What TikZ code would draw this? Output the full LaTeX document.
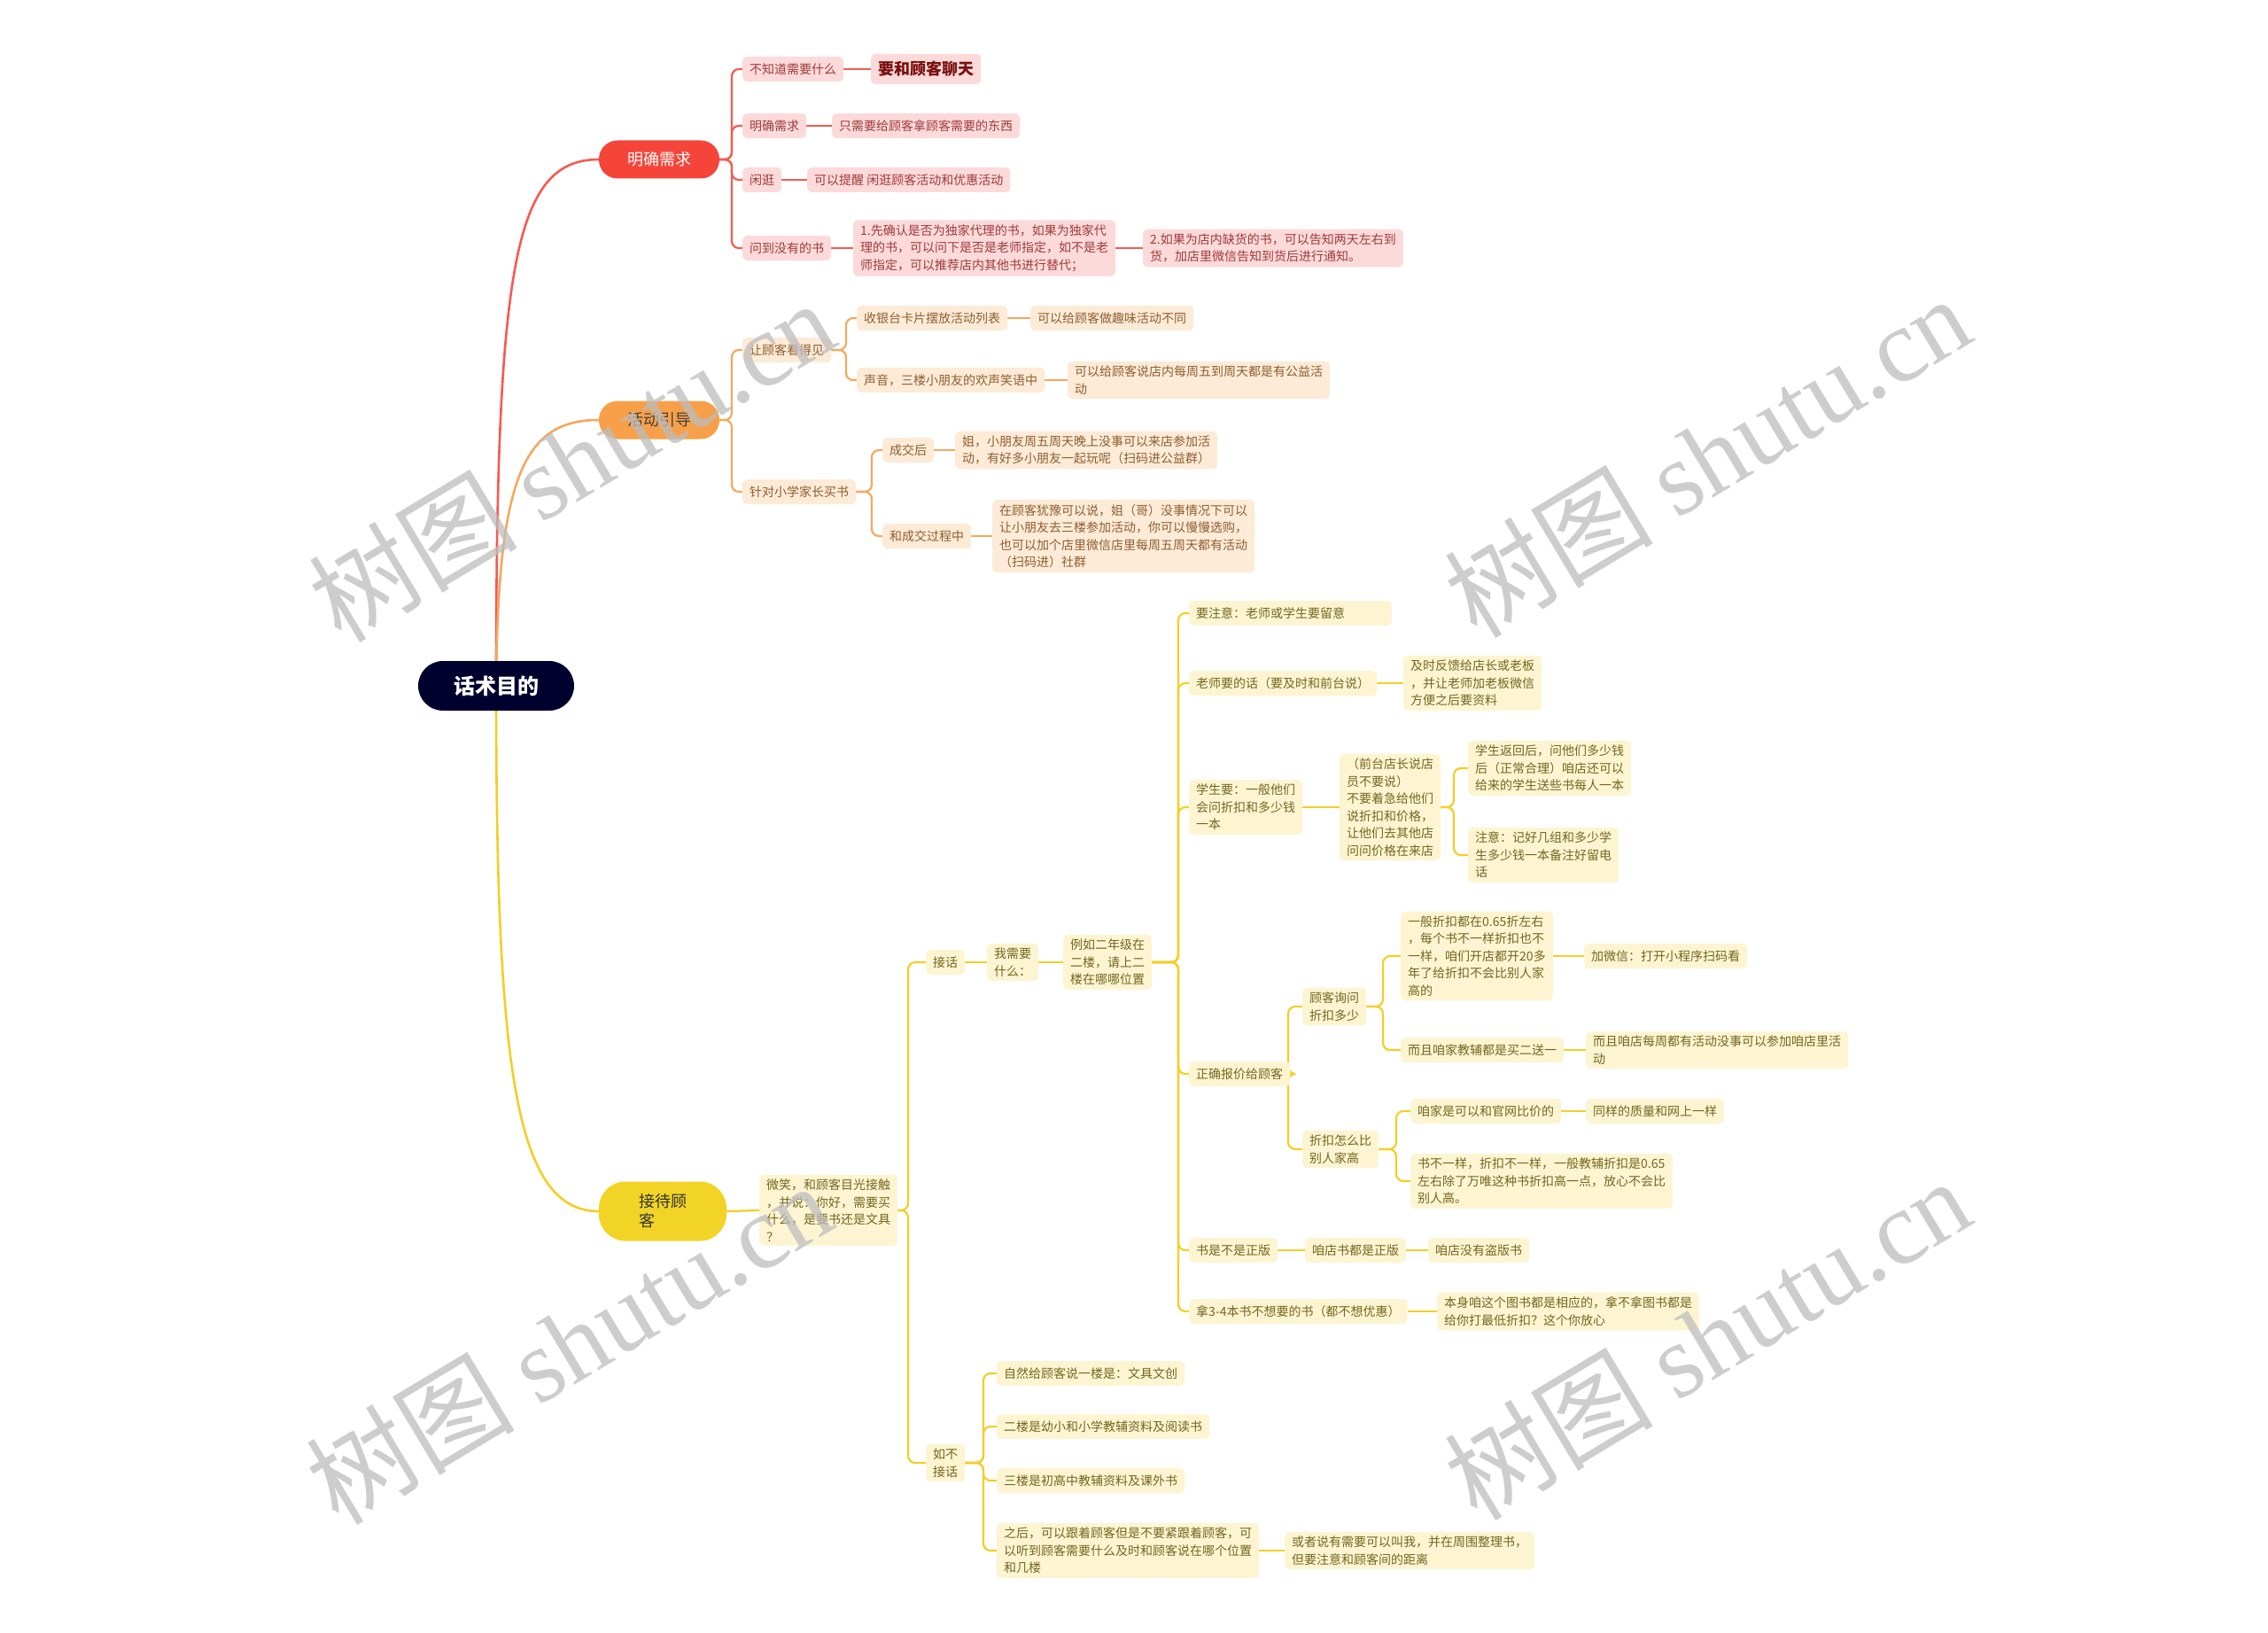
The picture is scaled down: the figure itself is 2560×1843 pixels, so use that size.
\documentclass[tikz,border=0pt]{standalone}
\usepackage{fontspec}
\setmainfont{Noto Sans CJK SC}
\newfontfamily\wmlatin{Liberation Serif}
\usetikzlibrary{backgrounds}
\definecolor{rootc}{HTML}{00002E}
\definecolor{redm}{HTML}{F5453A}
\definecolor{redl}{HTML}{F65A50}
\definecolor{redf}{HTML}{FCDADA}
\definecolor{redt}{HTML}{A03A3A}
\definecolor{redbig}{HTML}{7A1010}
\definecolor{orm}{HTML}{F7A049}
\definecolor{orl}{HTML}{F5A85E}
\definecolor{orf}{HTML}{FDEBD8}
\definecolor{ort}{HTML}{8E5E2E}
\definecolor{yem}{HTML}{F2D426}
\definecolor{yel}{HTML}{F3CF24}
\definecolor{yef}{HTML}{FDF5D2}
\definecolor{yet}{HTML}{74661E}
\definecolor{wmc}{HTML}{BDBDBD}
\tikzset{
  leaf/.style={anchor=west, rounded corners=5pt, inner xsep=8pt, inner ysep=5pt,
    minimum height=28pt, align=left, font=\fontsize{14}{19.5}\selectfont},
  rleaf/.style={leaf, fill=redf, text=redt},
  oleaf/.style={leaf, fill=orf, text=ort},
  yleaf/.style={leaf, fill=yef, text=yet},
  mainbox/.style={rounded corners=21pt, minimum height=43pt, minimum width=136pt,
    align=left, font=\fontsize{18}{22}\selectfont},
  rlink/.style={draw=redl, line width=2.2pt, rounded corners=8pt},
  olink/.style={draw=orl, line width=2.2pt, rounded corners=8pt},
  ylink/.style={draw=yel, line width=2.2pt, rounded corners=8pt},
  wmark/.style={rotate=31, text=wmc, opacity=0.75},
}
\newcommand\brk[4][12]{\draw[#2] (#3.east) -| ([xshift=-#1pt]#4.west) -- (#4.west);}
\newcommand\lnk[3]{\draw[#1] (#2.east) -- (#3.west);}
\newcommand\wmtext{\fontsize{118}{125}\selectfont 树图 {\wmlatin shutu.cn}}
\begin{document}
\begin{tikzpicture}[x=1pt,y=-1pt]
\useasboundingbox (0,0) rectangle (2560,1843);
% root and main nodes
\node[fill=rootc, text=white, rounded corners=28pt, minimum width=176pt, minimum height=56pt,
  font=\fontsize{24}{28}\selectfont\bfseries] (root) at (560,774) {话术目的};
\node[mainbox, fill=redm, text=white] (rm) at (744,180) {明确需求};
\node[mainbox, fill=orm, text=black!75] (om) at (744,474) {活动引导};
\node[mainbox, fill=yem, text=black!80, minimum width=144pt, minimum height=67pt, rounded corners=30pt] (ym) at (748,1367) {接待顾\\客};
% red branch
\node[rleaf] (r1) at (838,78) {不知道需要什么};
\node[rleaf, text=redbig, font=\fontsize{18}{22}\selectfont\bfseries, minimum height=34pt] (r1a) at (983,78) {要和顾客聊天};
\node[rleaf] (r2) at (838,142) {明确需求};
\node[rleaf] (r2a) at (939,142) {只需要给顾客拿顾客需要的东西};
\node[rleaf] (r3) at (838,203) {闲逛};
\node[rleaf] (r3a) at (911,203) {可以提醒 闲逛顾客活动和优惠活动};
\node[rleaf] (r4) at (838,280) {问到没有的书};
\node[rleaf] (r4a) at (963,280) {1.先确认是否为独家代理的书，如果为独家代\\理的书，可以问下是否是老师指定，如不是老\\师指定，可以推荐店内其他书进行替代；};
\node[rleaf] (r4b) at (1290,280) {2.如果为店内缺货的书，可以告知两天左右到\\货，加店里微信告知到货后进行通知。};
% orange branch
\node[oleaf] (o1) at (838,395) {让顾客看得见};
\node[oleaf] (o1a) at (967,359) {收银台卡片摆放活动列表};
\node[oleaf] (o1a1) at (1163,359) {可以给顾客做趣味活动不同};
\node[oleaf] (o1b) at (967,429) {声音，三楼小朋友的欢声笑语中};
\node[oleaf] (o1b1) at (1205,429) {可以给顾客说店内每周五到周天都是有公益活\\动};
\node[oleaf] (o2) at (838,555) {针对小学家长买书};
\node[oleaf] (o2a) at (996,508) {成交后};
\node[oleaf] (o2a1) at (1078,508) {姐，小朋友周五周天晚上没事可以来店参加活\\动，有好多小朋友一起玩呢（扫码进公益群）};
\node[oleaf] (o2b) at (996,605) {和成交过程中};
\node[oleaf] (o2b1) at (1120,605) {在顾客犹豫可以说，姐（哥）没事情况下可以\\让小朋友去三楼参加活动，你可以慢慢选购，\\也可以加个店里微信店里每周五周天都有活动\\（扫码进）社群};
% yellow branch
\node[yleaf] (y0) at (857,1366) {微笑，和顾客目光接触\\，并说：你好，需要买\\什么，是要书还是文具\\？};
\node[yleaf] (y1) at (1045,1086) {接话};
\node[yleaf] (y2) at (1045,1651) {如不\\接话};
\node[yleaf] (y1a) at (1114,1086) {我需要\\什么：};
\node[yleaf] (y1b) at (1200,1086) {例如二年级在\\二楼，请上二\\楼在哪哪位置};
\node[yleaf, text width=213pt] (c1) at (1342,692) {要注意：老师或学生要留意};
\node[yleaf] (c2) at (1342,771) {老师要的话（要及时和前台说）};
\node[yleaf] (c2a) at (1584,771) {及时反馈给店长或老板\\，并让老师加老板微信\\方便之后要资料};
\node[yleaf] (c3) at (1342,911) {学生要：一般他们\\会问折扣和多少钱\\一本};
\node[yleaf] (c3a) at (1512,911) {（前台店长说店\\员不要说）\\不要着急给他们\\说折扣和价格，\\让他们去其他店\\问问价格在来店};
\node[yleaf] (c3a1) at (1657,867) {学生返回后，问他们多少钱\\后（正常合理）咱店还可以\\给来的学生送些书每人一本};
\node[yleaf] (c3a2) at (1657,965) {注意：记好几组和多少学\\生多少钱一本备注好留电\\话};
\node[yleaf] (c4) at (1342,1212) {正确报价给顾客};
\node[yleaf] (c4a) at (1470,1136) {顾客询问\\折扣多少};
\node[yleaf] (c4a1) at (1581,1079) {一般折扣都在0.65折左右\\，每个书不一样折扣也不\\一样，咱们开店都开20多\\年了给折扣不会比别人家\\高的};
\node[yleaf] (c4a1a) at (1788,1079) {加微信：打开小程序扫码看};
\node[yleaf] (c4a2) at (1581,1185) {而且咱家教辅都是买二送一};
\node[yleaf] (c4a2a) at (1790,1185) {而且咱店每周都有活动没事可以参加咱店里活\\动};
\node[yleaf] (c4b) at (1470,1297) {折扣怎么比\\别人家高};
\node[yleaf] (c4b1) at (1592,1254) {咱家是可以和官网比价的};
\node[yleaf] (c4b1a) at (1790,1254) {同样的质量和网上一样};
\node[yleaf] (c4b2) at (1592,1333) {书不一样，折扣不一样，一般教辅折扣是0.65\\左右除了万唯这种书折扣高一点，放心不会比\\别人高。};
\node[yleaf] (c5) at (1342,1411) {书是不是正版};
\node[yleaf] (c5a) at (1473,1411) {咱店书都是正版};
\node[yleaf] (c5a1) at (1612,1411) {咱店没有盗版书};
\node[yleaf] (c6) at (1342,1480) {拿3-4本书不想要的书（都不想优惠）};
\node[yleaf] (c6a) at (1622,1480) {本身咱这个图书都是相应的，拿不拿图书都是\\给你打最低折扣？这个你放心};
\node[yleaf] (d1) at (1125,1550) {自然给顾客说一楼是：文具文创};
\node[yleaf] (d2) at (1125,1610) {二楼是幼小和小学教辅资料及阅读书};
\node[yleaf] (d3) at (1125,1671) {三楼是初高中教辅资料及课外书};
\node[yleaf] (d4) at (1125,1750) {之后，可以跟着顾客但是不要紧跟着顾客，可\\以听到顾客需要什么及时和顾客说在哪个位置\\和几楼};
\node[yleaf] (d4a) at (1450,1750) {或者说有需要可以叫我，并在周围整理书，\\但要注意和顾客间的距离};
% connectors
\begin{scope}[on background layer]
\fill[white] (0,0) rectangle (2560,1843);
\draw[redl, line width=2.6pt] (root.center) .. controls (560,300) and (580,180) .. (rm.west);
\draw[orl, line width=2.6pt] (root.center) .. controls (562,540) and (590,474) .. (om.west);
\draw[yel, line width=2.6pt] (root.center) .. controls (560,1200) and (580,1367) .. (ym.west);
\brk{rlink}{rm}{r1} \brk{rlink}{rm}{r2} \brk{rlink}{rm}{r3} \brk{rlink}{rm}{r4}
\lnk{rlink}{r1}{r1a} \lnk{rlink}{r2}{r2a} \lnk{rlink}{r3}{r3a} \lnk{rlink}{r4}{r4a} \lnk{rlink}{r4a}{r4b}
\brk{olink}{om}{o1} \brk{olink}{om}{o2}
\brk{olink}{o1}{o1a} \brk{olink}{o1}{o1b} \lnk{olink}{o1a}{o1a1} \lnk{olink}{o1b}{o1b1}
\brk{olink}{o2}{o2a} \brk{olink}{o2}{o2b} \lnk{olink}{o2a}{o2a1} \lnk{olink}{o2b}{o2b1}
\lnk{ylink}{ym}{y0}
\brk[20]{ylink}{y0}{y1} \brk[20]{ylink}{y0}{y2}
\lnk{ylink}{y1}{y1a} \lnk{ylink}{y1a}{y1b}
\brk{ylink}{y1b}{c1} \brk{ylink}{y1b}{c2} \brk{ylink}{y1b}{c3} \brk{ylink}{y1b}{c4} \brk{ylink}{y1b}{c5} \brk{ylink}{y1b}{c6}
\lnk{ylink}{c2}{c2a} \lnk{ylink}{c3}{c3a}
\brk[16]{ylink}{c3a}{c3a1} \brk[16]{ylink}{c3a}{c3a2}
\brk[16]{ylink}{c4}{c4a} \brk[16]{ylink}{c4}{c4b}
\brk[20]{ylink}{c4a}{c4a1} \brk[20]{ylink}{c4a}{c4a2}
\lnk{ylink}{c4a1}{c4a1a} \lnk{ylink}{c4a2}{c4a2a}
\brk[16]{ylink}{c4b}{c4b1} \brk[16]{ylink}{c4b}{c4b2}
\lnk{ylink}{c4b1}{c4b1a}
\lnk{ylink}{c5}{c5a} \lnk{ylink}{c5a}{c5a1} \lnk{ylink}{c6}{c6a}
\brk[15]{ylink}{y2}{d1} \brk[15]{ylink}{y2}{d2} \brk[15]{ylink}{y2}{d3} \brk[15]{ylink}{y2}{d4}
\lnk{ylink}{d4}{d4a}
\end{scope}
% watermarks
\node[wmark] (w1) at (645,519) {\wmtext};
\node[wmark] (w2) at (1927,514) {\wmtext};
\node[wmark] (w3) at (642,1515) {\wmtext};
\node[wmark] (w4) at (1927,1510) {\wmtext};
\end{tikzpicture}
\end{document}
